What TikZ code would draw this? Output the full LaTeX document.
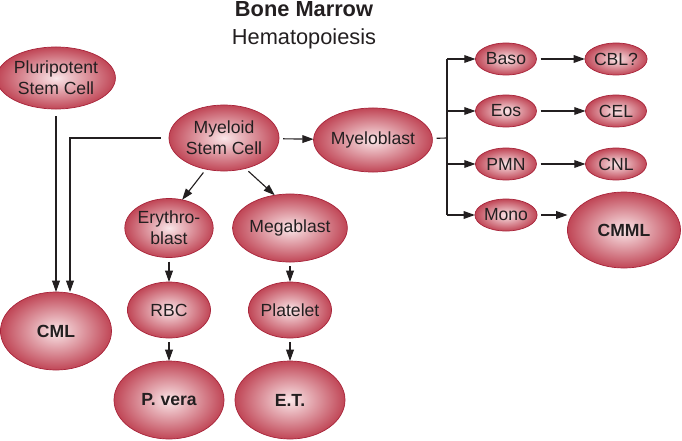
\documentclass[tikz,border=0pt]{standalone}
\usepackage{fontspec}
\setmainfont{Liberation Sans}
\usetikzlibrary{shapes.geometric,arrows.meta}
\definecolor{cellin}{RGB}{250,230,232}
\definecolor{cellout}{RGB}{192,70,86}
\definecolor{celledge}{RGB}{168,36,58}
\definecolor{ink}{RGB}{35,31,32}
\begin{document}
\begin{tikzpicture}[x=0.025cm, y=-0.025cm,
  cell/.style={ellipse, draw=celledge, line width=0.5pt, shading=radial,
    inner color=cellin, outer color=cellout, inner sep=0pt, outer sep=0pt,
    align=center, text=ink, font=\fontsize{12.5}{15}\selectfont},
  dis/.style={cell, font=\fontsize{12.5}{15}\selectfont\bfseries},
  wire/.style={line width=0.8pt, draw=ink, shorten <=3pt},
  link/.style={wire, -{Triangle[length=8pt,width=5.5pt]}}]
  \useasboundingbox (0,0) rectangle (682,440);
  % title
  \node[anchor=base, text=ink, font=\fontsize{15.5}{18}\selectfont\bfseries]
    (title) at (304,17) {Bone Marrow};
  \node[anchor=base, text=ink, font=\fontsize{15.5}{18}\selectfont]
    (subtitle) at (304,45) {Hematopoiesis};
  % stem cells
  \node[cell, minimum width=2.75cm, minimum height=1.55cm] (pluri) at (56,78)
    {Pluripotent\\Stem Cell};
  \node[cell, minimum width=2.75cm, minimum height=1.65cm] (myeloid) at (224,138)
    {Myeloid\\Stem Cell};
  \node[cell, minimum width=2.75cm, minimum height=1.6cm] (myeloblast) at (373,140)
    {Myeloblast};
  % right column
  \foreach \nm/\tx/\yy in {baso/Baso/59, eos/Eos/111, pmn/PMN/164, mono/Mono/215}{
    \node[cell, minimum width=1.525cm, minimum height=0.8cm] (\nm) at (506,\yy) {\tx};
  }
  \foreach \nm/\tx/\yy in {cbl/CBL?/59, cel/CEL/111, cnl/CNL/164}{
    \node[cell, minimum width=1.525cm, minimum height=0.8cm] (\nm) at (616,\yy) {\tx};
  }
  \node[dis, minimum width=2.825cm, minimum height=1.9cm] (cmml) at (624,230) {CMML};
  % erythroid and megakaryocytic lines
  \node[cell, minimum width=2.05cm, minimum height=1.475cm] (erythro) at (169,228)
    {Erythro-\\blast};
  \node[cell, minimum width=2.45cm, minimum height=1.7cm] (mega) at (290,228)
    {Megablast};
  \node[cell, minimum width=2.075cm, minimum height=1.4cm] (rbc) at (169,310) {RBC};
  \node[cell, minimum width=2.075cm, minimum height=1.4cm] (plt) at (290,310) {Platelet};
  \node[dis, minimum width=2.75cm, minimum height=1.95cm] (pvera) at (169,400) {P. vera};
  \node[dis, minimum width=2.75cm, minimum height=1.95cm] (et) at (290,400) {E.T.};
  \node[dis, minimum width=2.775cm, minimum height=1.95cm] (cml) at (56,331) {CML};
  % connectors
  \coordinate (split) at (447,138);
  \coordinate (cmlin) at (70,0 |- cml.north);
  \draw[link, shorten <=5pt] (pluri) -- (cml);
  \draw[link, shorten <=6pt] (myeloid.west) -| (cmlin);
  \draw[link] (myeloid) -- (myeloblast);
  \draw[link] (myeloid.240) -- (erythro.65);
  \draw[link] (myeloid.305) -- (mega.115);
  \draw[link] (erythro) -- (rbc);
  \draw[link] (rbc) -- (pvera);
  \draw[link] (mega) -- (plt);
  \draw[link] (plt) -- (et);
  \draw[wire] (myeloblast) -- (split);
  \draw[wire, shorten <=0pt] (split |- baso) -- (split |- mono);
  \foreach \nm in {baso,eos,pmn,mono}{
    \draw[link, shorten <=0pt] (split |- \nm) -- (\nm);
  }
  \foreach \a/\b in {baso/cbl, eos/cel, pmn/cnl}{
    \draw[link] (\a) -- (\b);
  }
  \draw[link] (mono) -- (mono -| cmml.west);
\end{tikzpicture}
\end{document}
